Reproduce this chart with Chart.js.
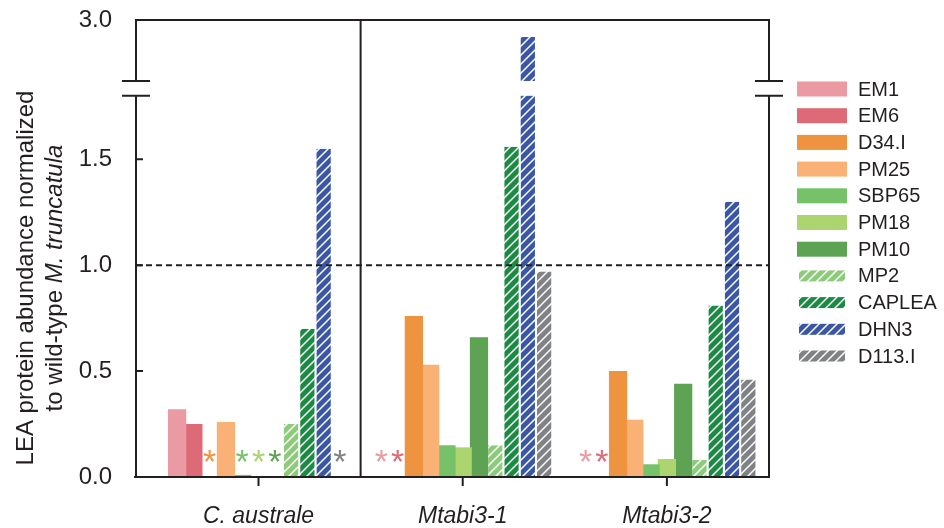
<!DOCTYPE html>
<html>
<head>
<meta charset="utf-8">
<script src="https://cdn.jsdelivr.net/npm/chart.js@4"></script>
<style>
  html, body { margin: 0; padding: 0; background: #fff; }
  #wrap { width: 944px; height: 528px; }
</style>
</head>
<body>
<div id="wrap"><canvas id="leaChart"></canvas></div>
<script>
// data
const groups = ['C. australe', 'Mtabi3-1', 'Mtabi3-2'];
const series = ['EM1', 'EM6', 'D34.I', 'PM25', 'SBP65', 'PM18', 'PM10', 'MP2', 'CAPLEA', 'DHN3', 'D113.I'];
const em1    = [0.32, null, null];
const em6    = [0.25, null, null];
const d34    = [null, 0.76, 0.50];
const pm25   = [0.26, 0.53, 0.27];
const sbp65  = [0.01, 0.15, 0.06];
const pm18   = [null, 0.14, 0.085];
const pm10   = [null, 0.66, 0.44];
const mp2    = [0.25, 0.15, 0.08];
const caplea = [0.70, 1.56, 0.81];
const dhn3   = [1.55, 2.86, 1.30];
const d113   = [null, 0.97, 0.46];
// [series index, group index] marked with an asterisk
const notDetected = [[2, 0], [4, 0], [5, 0], [6, 0], [10, 0], [0, 1], [1, 1], [0, 2], [1, 2]];
const yTickValues = [0, 0.5, 1.0, 1.5, 3.0];
const yTickLabels = ['0.0', '0.5', '1.0', '1.5', '3.0'];

const colors = ['#e99aa3', '#dc6b77', '#ee9340', '#f9b176', '#75c268', '#acd46f', '#5ea354',
                '#8ccb7a', '#1b8a42', '#3a56a5', '#818286'];
const hatched = [false, false, false, false, false, false, false, true, true, true, true];
const values = [em1, em6, d34, pm25, sbp65, pm18, pm10, mp2, caplea, dhn3, d113];

const ink = '#231f20';
const FONT = "'Liberation Sans', Arial, sans-serif";

// broken y axis: 0..1.8 drawn as is, 2.5..3.0 squeezed above a gap
const LOW_MAX = 1.8, GAP = 0.07, HIGH_MIN = 2.5, HIGH_MAX = 3.0, HIGH_SPAN = 0.288;
function toAxis(v) {
  if (v === null) return null;
  if (v <= LOW_MAX) return v;
  return LOW_MAX + GAP + (v - HIGH_MIN) / (HIGH_MAX - HIGH_MIN) * HIGH_SPAN;
}

const canvas = document.getElementById('leaChart');
const ctx0 = canvas.getContext('2d');

function hatch(color) {
  const s = 9;
  const c = document.createElement('canvas');
  c.width = s; c.height = s;
  const g = c.getContext('2d');
  g.fillStyle = color;
  g.fillRect(0, 0, s, s);
  g.strokeStyle = '#fff';
  g.lineWidth = 1.5;
  g.beginPath();
  g.moveTo(-2, s + 2); g.lineTo(s + 2, -2);
  g.moveTo(-2, 2); g.lineTo(2, -2);
  g.moveTo(s - 2, s + 2); g.lineTo(s + 2, s - 2);
  g.stroke();
  return ctx0.createPattern(c, 'repeat');
}

const fills = colors.map((c, i) => hatched[i] ? hatch(c) : c);

const datasets = series.map((name, i) => ({
  label: name,
  data: values[i].map((v, g) => ({ x: g, y: toAxis(v) })),
  backgroundColor: fills[i],
  borderColor: '#ffffff',
  borderWidth: hatched[i] ? { left: 2, right: 2, top: 0, bottom: 0 } : 0,
  borderSkipped: 'start',
  barPercentage: 1.12,
  categoryPercentage: 0.877
}));

const decorations = {
  id: 'decorations',
  afterDatasetsDraw(chart) {
    const { ctx, chartArea: a, scales: { x, y } } = chart;
    const yLo = y.getPixelForValue(LOW_MAX);
    const yHi = y.getPixelForValue(LOW_MAX + GAP);
    ctx.save();

    // white gap of the axis break
    ctx.fillStyle = '#fff';
    ctx.fillRect(a.left, yHi, a.right - a.left, yLo - yHi);

    // asterisks for proteins not detected
    ctx.font = '34px ' + FONT;
    ctx.textAlign = 'center';
    const m = ctx.measureText('*');
    const off = (m.actualBoundingBoxAscent - m.actualBoundingBoxDescent) / 2;
    notDetected.forEach(([si, gi]) => {
      const el = chart.getDatasetMeta(si).data[gi];
      ctx.fillStyle = colors[si];
      ctx.fillText('*', el.x, y.getPixelForValue(0.1) + off);
    });

    // reference line at 1.0
    ctx.strokeStyle = ink;
    ctx.lineWidth = 1.8;
    ctx.setLineDash([6, 4]);
    const y1 = y.getPixelForValue(1.0);
    ctx.beginPath();
    ctx.moveTo(a.left, y1); ctx.lineTo(a.right, y1);
    ctx.stroke();
    ctx.setLineDash([]);

    // frame
    ctx.lineWidth = 2;
    ctx.beginPath();
    [a.left, a.right].forEach(xx => {
      ctx.moveTo(xx, a.top - 1); ctx.lineTo(xx, yHi);
      ctx.moveTo(xx, yLo); ctx.lineTo(xx, a.bottom);
      ctx.moveTo(xx - 14, yHi); ctx.lineTo(xx + 14, yHi);
      ctx.moveTo(xx - 14, yLo); ctx.lineTo(xx + 14, yLo);
    });
    ctx.moveTo(a.left - 1, a.top); ctx.lineTo(a.right + 1, a.top);
    ctx.moveTo(a.left - 2, a.bottom); ctx.lineTo(a.right + 1, a.bottom);
    const xd = x.getPixelForValue(0.5);
    ctx.moveTo(xd, a.top); ctx.lineTo(xd, a.bottom);
    [0.5, 1.0, 1.5].forEach(v => {
      const yy = y.getPixelForValue(v);
      ctx.moveTo(a.left, yy); ctx.lineTo(a.left + 7, yy);
    });
    groups.forEach((g, i) => {
      const xx = x.getPixelForValue(i);
      ctx.moveTo(xx, a.bottom); ctx.lineTo(xx, a.bottom + 9);
    });
    ctx.stroke();
    ctx.restore();
  },
  afterDraw(chart) {
    const { ctx } = chart;
    ctx.save();

    // legend
    ctx.font = '20px ' + FONT;
    ctx.textBaseline = 'middle';
    ctx.textAlign = 'left';
    series.forEach((name, i) => {
      const cy = 89 + i * 26.7;
      ctx.fillStyle = fills[i];
      if (hatched[i]) ctx.fillRect(799, cy - 5.5, 46, 11);
      else ctx.fillRect(797, cy - 7.5, 50, 15);
      ctx.fillStyle = ink;
      ctx.fillText(name, 858, cy + 1);
    });

    // y title, two lines, second one partly italic
    ctx.translate(26, 278);
    ctx.rotate(-Math.PI / 2);
    ctx.textAlign = 'center';
    ctx.font = '24px ' + FONT;
    ctx.fillText('LEA protein abundance normalized', 0, 0);
    const p1 = 'to wild-type ', p2 = 'M. truncatula';
    const w1 = ctx.measureText(p1).width;
    ctx.font = 'italic 24px ' + FONT;
    const w2 = ctx.measureText(p2).width;
    ctx.textAlign = 'left';
    ctx.font = '24px ' + FONT;
    ctx.fillText(p1, -(w1 + w2) / 2, 29);
    ctx.font = 'italic 24px ' + FONT;
    ctx.fillText(p2, -(w1 + w2) / 2 + w1, 29);
    ctx.restore();
  }
};

new Chart(canvas, {
  type: 'bar',
  data: { datasets },
  options: {
    responsive: true,
    maintainAspectRatio: false,
    animation: false,
    layout: { padding: { top: 20, right: 175, bottom: 0, left: 0 } },
    plugins: { legend: { display: false }, tooltip: { enabled: false } },
    scales: {
      x: {
        type: 'linear',
        min: -0.6,
        max: 2.5,
        offset: false,
        grid: { display: false, drawTicks: false },
        border: { display: false },
        afterBuildTicks: s => { s.ticks = groups.map((g, i) => ({ value: i })); },
        afterFit: s => { s.height = 51; s.paddingLeft = 0; s.paddingRight = 0; },
        ticks: {
          padding: 26,
          color: ink,
          font: { family: FONT, size: 23, style: 'italic' },
          callback: v => groups[v]
        }
      },
      y: {
        min: 0,
        max: toAxis(HIGH_MAX),
        grid: { display: false, drawTicks: false },
        border: { display: false },
        afterBuildTicks: s => { s.ticks = yTickValues.map(v => ({ value: toAxis(v) })); },
        afterFit: s => { s.width = 136; s.paddingTop = 0; s.paddingBottom = 0; },
        ticks: {
          padding: 24,
          color: ink,
          font: { family: FONT, size: 24 },
          callback: (v, i) => yTickLabels[i]
        }
      }
    }
  },
  plugins: [decorations]
});
</script>
</body>
</html>
